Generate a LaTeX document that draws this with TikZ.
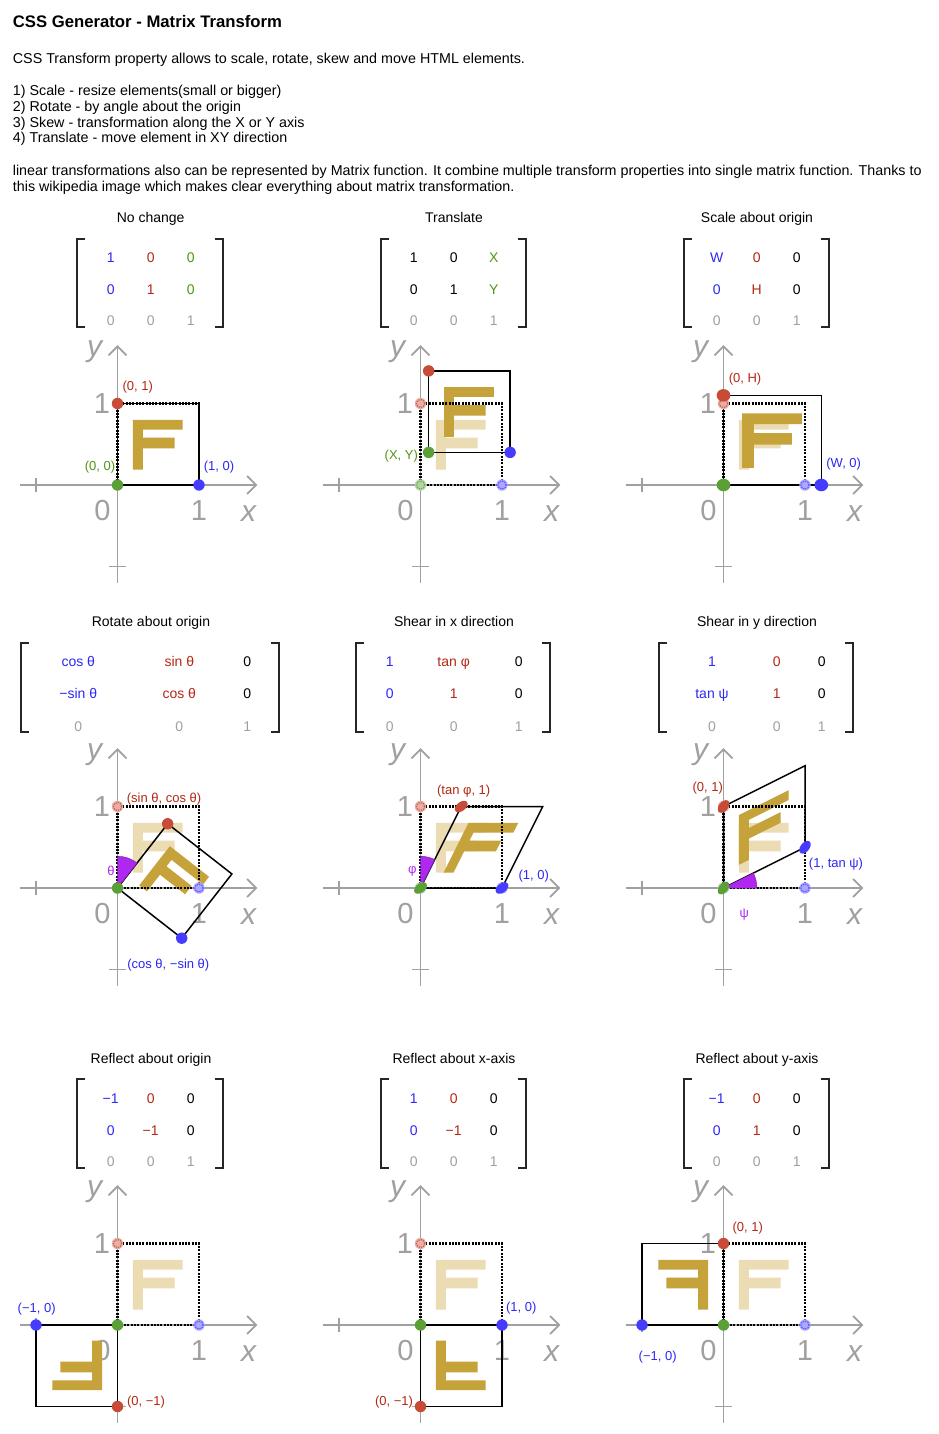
\documentclass[tikz,border=0pt]{standalone}
\usepackage{fontspec}
\setmainfont{Liberation Sans}
\definecolor{cblue}{RGB}{45,40,245}
\definecolor{cred}{RGB}{180,40,20}
\definecolor{cgreen}{RGB}{80,150,20}
\definecolor{cgray}{RGB}{160,160,160}
\definecolor{gold}{RGB}{198,162,58}
\definecolor{fgold}{RGB}{235,220,180}
\definecolor{dred}{RGB}{200,75,55}
\definecolor{dblue}{RGB}{70,60,255}
\definecolor{dgreen}{RGB}{90,160,55}
\definecolor{purp}{RGB}{175,40,240}
\tikzset{
  body/.style={font=\fontsize{14.3}{16}\selectfont, anchor=base west, inner sep=0pt},
  ttl/.style={font=\fontsize{14}{16}\selectfont, anchor=base, inner sep=0pt},
  ent/.style={font=\fontsize{14}{16}\selectfont, anchor=base, inner sep=0pt},
  lbl/.style={font=\fontsize{13}{15}\selectfont, inner sep=0pt},
  axlbl/.style={font=\fontsize{29}{30}\selectfont, text=cgray, inner sep=0pt},
  axit/.style={font=\fontsize{30}{30}\selectfont\itshape, text=cgray, inner sep=0pt},
  ax/.style={draw=cgray, line width=1.8pt},
  dotsq/.style={draw=black, line width=2.4pt, dash pattern=on 2pt off 1.3pt},
  solsq/.style={draw=black, line width=1.5pt},
  brk/.style={draw=black!85, line width=1.8pt},
  wedge/.style={fill=purp, draw=purp!70!black, line width=0.4pt}
}
\newcommand\FF[1]{\fill[#1] (0.19,0.19) -- (0.31,0.19) -- (0.31,0.45) -- (0.70,0.45) -- (0.70,0.58) -- (0.31,0.58) -- (0.31,0.68) -- (0.80,0.68) -- (0.80,0.80) -- (0.19,0.80) -- cycle;}
\newcommand\USQ[1]{\draw[#1] (0,0) -- (1,0) -- (1,1) -- (0,1) -- cycle;}
\newcommand\SDOT[3]{\fill[#1] (#2,#3) circle[radius=0.07];}
\newcommand\FDOT[3]{\fill[#1!45!white] (#2,#3) circle[radius=0.07];\draw[#1!90!white, line width=1.2pt, dash pattern=on 1.2pt off 1.2pt] (#2,#3) circle[radius=0.05];}
\newcommand\AXES{%
  \draw[ax] (-1.2,0) -- (1.70,0);
  \draw[ax] (1.59,0.11) -- (1.70,0) -- (1.59,-0.11);
  \draw[ax] (0,-1.2) -- (0,1.70);
  \draw[ax] (-0.11,1.59) -- (0,1.70) -- (0.11,1.59);
  \draw[ax] (-1,-0.09) -- (-1,0.09);
  \draw[ax] (-0.1,-1) -- (0.1,-1);
  \node[axlbl] at (-0.185,-0.31) {0};
  \node[axlbl] at (1.0,-0.31) {1};
  \node[axit] at (1.61,-0.35) {x};
  \node[axit] at (-0.28,1.64) {y};
  \node[axlbl] at (-0.19,1.0) {1};
}
\newcommand\BRK[4]{%
  \draw[brk] (#1+8,#3) -- (#1,#3) -- (#1,#4) -- (#1+8,#4);
  \draw[brk] (#2-8,#3) -- (#2,#3) -- (#2,#4) -- (#2-8,#4);}
\newcommand\ENT[5]{\node[ent, text=#4] (#1) at (#2,#3) {#5};}
\begin{document}
\begin{tikzpicture}[x=1pt,y=-1pt]
\useasboundingbox (0,0) rectangle (939,1434);
\fill[white] (0,0) rectangle (939,1434);

% ---------- header text ----------
\node[anchor=base west, inner sep=0pt, font=\bfseries\fontsize{16.7}{18}\selectfont] (title) at (12.7,27.7) {CSS Generator - Matrix Transform};
\node[body] (tx1) at (12.7,63.3) {CSS Transform property allows to scale, rotate, skew and move HTML elements.};
\node[body] (tx2) at (12.7,95.5) {1) Scale - resize elements(small or bigger)};
\node[body] (tx3) at (12.7,111.3) {2) Rotate - by angle about the origin};
\node[body] (tx4) at (12.7,127.1) {3) Skew - transformation along the X or Y axis};
\node[body] (tx5) at (12.7,142.9) {4) Translate - move element in XY direction};
\node[body] (tx6) at (12.7,175.5) {linear transformations also can be represented by Matrix function. It combine multiple transform properties into single matrix function. Thanks to};
\node[body] (tx7) at (12.7,191.3) {this wikipedia image which makes clear everything about matrix transformation.};

% ---------- panel titles ----------
\node[ttl] (h1) at (150.7,222.3) {No change};
\node[ttl] (h2) at (454,222.3) {Translate};
\node[ttl] (h3) at (757,222.3) {Scale about origin};
\node[ttl] (h4) at (151,626.7) {Rotate about origin};
\node[ttl] (h5) at (454,626.7) {Shear in x direction};
\node[ttl] (h6) at (757,626.7) {Shear in y direction};
\node[ttl] (h7) at (151,1063.3) {Reflect about origin};
\node[ttl] (h8) at (454,1063.3) {Reflect about x-axis};
\node[ttl] (h9) at (757,1063.3) {Reflect about y-axis};

% ---------- matrices row 1 ----------
\BRK{77.3}{222.7}{239.3}{327.3}
\ENT{a11}{110.7}{262.3}{cblue}{1}\ENT{a12}{150.7}{262.3}{cred}{0}\ENT{a13}{190.7}{262.3}{cgreen}{0}
\ENT{a21}{110.7}{294.3}{cblue}{0}\ENT{a22}{150.7}{294.3}{cred}{1}\ENT{a23}{190.7}{294.3}{cgreen}{0}
\ENT{a31}{110.7}{325.7}{cgray}{0}\ENT{a32}{150.7}{325.7}{cgray}{0}\ENT{a33}{190.7}{325.7}{cgray}{1}

\BRK{380.7}{525.7}{239.3}{327.3}
\ENT{b11}{413.7}{262.3}{black}{1}\ENT{b12}{453.7}{262.3}{black}{0}\ENT{b13}{493.7}{262.3}{cgreen}{X}
\ENT{b21}{413.7}{294.3}{black}{0}\ENT{b22}{453.7}{294.3}{black}{1}\ENT{b23}{493.7}{294.3}{cgreen}{Y}
\ENT{b31}{413.7}{325.7}{cgray}{0}\ENT{b32}{453.7}{325.7}{cgray}{0}\ENT{b33}{493.7}{325.7}{cgray}{1}

\BRK{683.7}{828.7}{239.3}{327.3}
\ENT{c11}{716.7}{262.3}{cblue}{W}\ENT{c12}{756.7}{262.3}{cred}{0}\ENT{c13}{796.7}{262.3}{black}{0}
\ENT{c21}{716.7}{294.3}{cblue}{0}\ENT{c22}{756.7}{294.3}{cred}{H}\ENT{c23}{796.7}{294.3}{black}{0}
\ENT{c31}{716.7}{325.7}{cgray}{0}\ENT{c32}{756.7}{325.7}{cgray}{0}\ENT{c33}{796.7}{325.7}{cgray}{1}

% ---------- matrices row 2 ----------
\BRK{20.7}{279.3}{642.7}{731.7}
\ENT{d11}{78.3}{666.7}{cblue}{cos θ}\ENT{d12}{179.3}{666.7}{cred}{sin θ}\ENT{d13}{247.3}{666.7}{black}{0}
\ENT{d21}{78.3}{698.3}{cblue}{−sin θ}\ENT{d22}{179.3}{698.3}{cred}{cos θ}\ENT{d23}{247.3}{698.3}{black}{0}
\ENT{d31}{78.3}{731}{cgray}{0}\ENT{d32}{179.3}{731}{cgray}{0}\ENT{d33}{247.3}{731}{cgray}{1}

\BRK{356.3}{550.3}{642.7}{731.7}
\ENT{e11}{389.7}{666.7}{cblue}{1}\ENT{e12}{453.7}{666.7}{cred}{tan φ}\ENT{e13}{518.7}{666.7}{black}{0}
\ENT{e21}{389.7}{698.3}{cblue}{0}\ENT{e22}{453.7}{698.3}{cred}{1}\ENT{e23}{518.7}{698.3}{black}{0}
\ENT{e31}{389.7}{731}{cgray}{0}\ENT{e32}{453.7}{731}{cgray}{0}\ENT{e33}{518.7}{731}{cgray}{1}

\BRK{659.3}{853.3}{642.7}{731.7}
\ENT{f11}{712}{666.7}{cblue}{1}\ENT{f12}{776.7}{666.7}{cred}{0}\ENT{f13}{821.7}{666.7}{black}{0}
\ENT{f21}{712}{698.3}{cblue}{tan ψ}\ENT{f22}{776.7}{698.3}{cred}{1}\ENT{f23}{821.7}{698.3}{black}{0}
\ENT{f31}{712}{731}{cgray}{0}\ENT{f32}{776.7}{731}{cgray}{0}\ENT{f33}{821.7}{731}{cgray}{1}

% ---------- matrices row 3 ----------
\BRK{77.3}{222.7}{1079.3}{1167.7}
\ENT{g11}{110.7}{1103.3}{cblue}{−1}\ENT{g12}{150.7}{1103.3}{cred}{0}\ENT{g13}{190.7}{1103.3}{black}{0}
\ENT{g21}{110.7}{1135}{cblue}{0}\ENT{g22}{150.7}{1135}{cred}{−1}\ENT{g23}{190.7}{1135}{black}{0}
\ENT{g31}{110.7}{1166.7}{cgray}{0}\ENT{g32}{150.7}{1166.7}{cgray}{0}\ENT{g33}{190.7}{1166.7}{cgray}{1}

\BRK{380.7}{525.7}{1079.3}{1167.7}
\ENT{k11}{413.7}{1103.3}{cblue}{1}\ENT{k12}{453.7}{1103.3}{cred}{0}\ENT{k13}{493.7}{1103.3}{black}{0}
\ENT{k21}{413.7}{1135}{cblue}{0}\ENT{k22}{453.7}{1135}{cred}{−1}\ENT{k23}{493.7}{1135}{black}{0}
\ENT{k31}{413.7}{1166.7}{cgray}{0}\ENT{k32}{453.7}{1166.7}{cgray}{0}\ENT{k33}{493.7}{1166.7}{cgray}{1}

\BRK{683.7}{828.7}{1079.3}{1167.7}
\ENT{m11}{716.7}{1103.3}{cblue}{−1}\ENT{m12}{756.7}{1103.3}{cred}{0}\ENT{m13}{796.7}{1103.3}{black}{0}
\ENT{m21}{716.7}{1135}{cblue}{0}\ENT{m22}{756.7}{1135}{cred}{1}\ENT{m23}{796.7}{1135}{black}{0}
\ENT{m31}{716.7}{1166.7}{cgray}{0}\ENT{m32}{756.7}{1166.7}{cgray}{0}\ENT{m33}{796.7}{1166.7}{cgray}{1}

% ---------- P1 no change ----------
\begin{scope}[shift={(117.5,485)}, x={(81.5pt,0pt)}, y={(0pt,81.5pt)}]
  \AXES
  \FF{gold}
  \USQ{solsq}
  \USQ{dotsq}
  \SDOT{dred}{0}{1}\SDOT{dgreen}{0}{0}\SDOT{dblue}{1}{0}
\end{scope}
\node[lbl, text=cred] (p1a) at (137.7,387) {(0, 1)};
\node[lbl, text=cgreen] (p1b) at (100,467) {(0, 0)};
\node[lbl, text=cblue] (p1c) at (219,467.5) {(1, 0)};

% ---------- P2 translate ----------
\begin{scope}[shift={(420.5,485)}, x={(81.5pt,0pt)}, y={(0pt,81.5pt)}]
  \AXES
  \FF{fgold}
  \begin{scope}[shift={(0.1,0.4)}]\FF{gold}\end{scope}
  \USQ{dotsq}
  \begin{scope}[shift={(0.1,0.4)}]\USQ{solsq}\end{scope}
  \FDOT{dred}{0}{1}\FDOT{dgreen}{0}{0}\FDOT{dblue}{1}{0}
  \begin{scope}[shift={(0.1,0.4)}]\SDOT{dred}{0}{1}\SDOT{dgreen}{0}{0}\SDOT{dblue}{1}{0}\end{scope}
\end{scope}
\node[lbl, text=cgreen] (p2a) at (401.3,456) {(X, Y)};

% ---------- P3 scale ----------
\begin{scope}[shift={(723.5,485)}, x={(81.5pt,0pt)}, y={(0pt,81.5pt)}]
  \AXES
  \FF{fgold}
  \begin{scope}[xscale=1.2, yscale=1.1]\FF{gold}\end{scope}
  \USQ{dotsq}
  \begin{scope}[xscale=1.2, yscale=1.1]\USQ{solsq}\end{scope}
  \FDOT{dred}{0}{1}\FDOT{dblue}{1}{0}
  \begin{scope}[xscale=1.2, yscale=1.1]\SDOT{dred}{0}{1}\SDOT{dgreen}{0}{0}\SDOT{dblue}{1}{0}\end{scope}
\end{scope}
\node[lbl, text=cred] (p3a) at (745,379) {(0, H)};
\node[lbl, text=cblue] (p3b) at (843.7,464.3) {(W, 0)};

% ---------- P4 rotate ----------
\begin{scope}[shift={(117.5,888)}, x={(81.5pt,0pt)}, y={(0pt,81.5pt)}]
  \AXES
  \FF{fgold}
  \begin{scope}[rotate=-38]\FF{gold}\end{scope}
  \USQ{dotsq}
  \begin{scope}[rotate=-38]\USQ{solsq}\end{scope}
  \draw[wedge] (0,0) -- (90:0.39) arc[start angle=90, end angle=52, radius=0.39] -- cycle;
  \FDOT{dred}{0}{1}\FDOT{dblue}{1}{0}
  \begin{scope}[rotate=-38]\SDOT{dred}{0}{1}\SDOT{dgreen}{0}{0}\SDOT{dblue}{1}{0}\end{scope}
\end{scope}
\node[lbl, text=cred] (p4a) at (164,799.3) {(sin θ, cos θ)};
\node[lbl, text=cblue] (p4b) at (168.3,965) {(cos θ, −sin θ)};
\node[lbl, text=purp] (p4c) at (111,871) {θ};

% ---------- P5 shear x ----------
\begin{scope}[shift={(420.5,888)}, x={(81.5pt,0pt)}, y={(0pt,81.5pt)}]
  \AXES
  \FF{fgold}
  \begin{scope}[xslant=0.5]\FF{gold}\end{scope}
  \USQ{dotsq}
  \begin{scope}[xslant=0.5]\USQ{solsq}\end{scope}
  \draw[wedge] (0,0) -- (90:0.39) arc[start angle=90, end angle=63.43, radius=0.39] -- cycle;
  \FDOT{dred}{0}{1}\FDOT{dgreen}{0}{0}\FDOT{dblue}{1}{0}
  \begin{scope}[xslant=0.5]\SDOT{dred}{0}{1}\SDOT{dgreen}{0}{0}\SDOT{dblue}{1}{0}\end{scope}
\end{scope}
\node[lbl, text=cred] (p5a) at (463.7,790.7) {(tan φ, 1)};
\node[lbl, text=cblue] (p5b) at (533.7,876) {(1, 0)};
\node[lbl, text=purp] (p5c) at (412.3,871.7) {φ};

% ---------- P6 shear y ----------
\begin{scope}[shift={(723.5,888)}, x={(81.5pt,0pt)}, y={(0pt,81.5pt)}]
  \AXES
  \FF{fgold}
  \begin{scope}[yslant=0.5]\FF{gold}\end{scope}
  \USQ{dotsq}
  \begin{scope}[yslant=0.5]\USQ{solsq}\end{scope}
  \draw[wedge] (0,0) -- (0:0.41) arc[start angle=0, end angle=26.57, radius=0.41] -- cycle;
  \FDOT{dred}{0}{1}\FDOT{dgreen}{0}{0}\FDOT{dblue}{1}{0}
  \begin{scope}[yslant=0.5]\SDOT{dred}{0}{1}\SDOT{dgreen}{0}{0}\SDOT{dblue}{1}{0}\end{scope}
\end{scope}
\node[lbl, text=cred] (p6a) at (707.7,787.7) {(0, 1)};
\node[lbl, text=cblue] (p6b) at (836,864.3) {(1, tan ψ)};
\node[lbl, text=purp] (p6c) at (744.3,914.3) {ψ};

% ---------- P7 reflect origin ----------
\begin{scope}[shift={(117.5,1325)}, x={(81.5pt,0pt)}, y={(0pt,81.5pt)}]
  \AXES
  \FF{fgold}
  \begin{scope}[scale=-1]\FF{gold}\end{scope}
  \USQ{dotsq}
  \begin{scope}[scale=-1]\USQ{solsq}\end{scope}
  \FDOT{dred}{0}{1}\FDOT{dblue}{1}{0}
  \begin{scope}[scale=-1]\SDOT{dred}{0}{1}\SDOT{dgreen}{0}{0}\SDOT{dblue}{1}{0}\end{scope}
\end{scope}
\node[lbl, text=cblue] (p7a) at (36.7,1309.3) {(−1, 0)};
\node[lbl, text=cred] (p7b) at (146,1401.7) {(0, −1)};

% ---------- P8 reflect x-axis ----------
\begin{scope}[shift={(420.5,1325)}, x={(81.5pt,0pt)}, y={(0pt,81.5pt)}]
  \AXES
  \FF{fgold}
  \begin{scope}[yscale=-1]\FF{gold}\end{scope}
  \USQ{dotsq}
  \begin{scope}[yscale=-1]\USQ{solsq}\end{scope}
  \FDOT{dred}{0}{1}
  \begin{scope}[yscale=-1]\SDOT{dred}{0}{1}\SDOT{dgreen}{0}{0}\SDOT{dblue}{1}{0}\end{scope}
\end{scope}
\node[lbl, text=cblue] (p8a) at (521.3,1308.3) {(1, 0)};
\node[lbl, text=cred] (p8b) at (394,1401.7) {(0, −1)};

% ---------- P9 reflect y-axis ----------
\begin{scope}[shift={(723.5,1325)}, x={(81.5pt,0pt)}, y={(0pt,81.5pt)}]
  \AXES
  \FF{fgold}
  \begin{scope}[xscale=-1]\FF{gold}\end{scope}
  \USQ{dotsq}
  \begin{scope}[xscale=-1]\USQ{solsq}\end{scope}
  \FDOT{dblue}{1}{0}
  \begin{scope}[xscale=-1]\SDOT{dred}{0}{1}\SDOT{dgreen}{0}{0}\SDOT{dblue}{1}{0}\end{scope}
\end{scope}
\node[lbl, text=cred] (p9a) at (747.7,1228.3) {(0, 1)};
\node[lbl, text=cblue] (p9b) at (657.7,1356.7) {(−1, 0)};
\end{tikzpicture}
\end{document}
